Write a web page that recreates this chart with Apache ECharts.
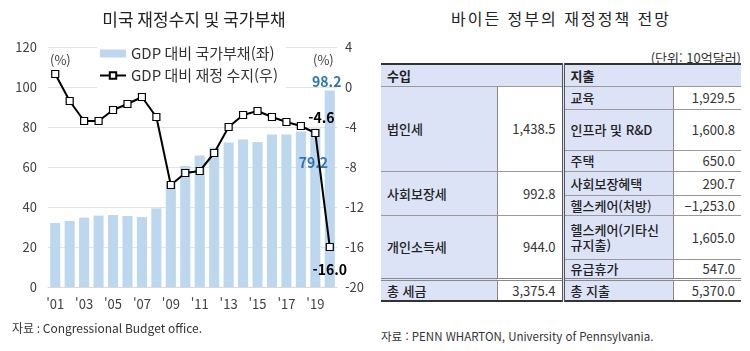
<!DOCTYPE html>
<html lang="ko">
<head>
<meta charset="UTF-8">
<title>미국 재정수지 및 국가부채 / 바이든 정부의 재정정책 전망</title>
<script src="https://cdn.jsdelivr.net/npm/echarts@6.0.0/dist/echarts.min.js"></script>
<style>
    body { margin: 0; background: #fff; font-family: "Noto Sans CJK KR", sans-serif; }
    #chart { position: absolute; left: 0; top: 0; width: 375px; height: 351px; }
    .ttl { position: absolute; left: 381px; width: 360px; top: 6px; text-align: center; font-size: 16px; letter-spacing: 2px; color: #222; }
    .unit { position: absolute; right: 9px; top: 48px; font-size: 13px; color: #333; }
    .src { position: absolute; left: 381px; top: 328px; font-size: 11.5px; color: #333; }
    #tbl { position: absolute; left: 381px; top: 63px; width: 360px; border-collapse: collapse; table-layout: fixed;
           border-top: 2px solid #333; border-bottom: 2px solid #333; font-size: 13px; color: #222; }
    #tbl td { padding: 0 6px; border-top: 1px solid #999; border-bottom: 1px solid #999; line-height: 15px; }
    #tbl td.k { background: #dce3f6; font-weight: 500; text-align: left; }
    #tbl td.v { background: #fff; text-align: right; color: #333; }
    #tbl td.c2 { border-left: 1px solid #888; }
    #tbl td.c3 { border-left: 3px double #555; }
    #tbl td.c4 { border-left: 1px solid #888; }
    #tbl tr.hd td { background: #dce3f6; font-weight: 600; }
    #tbl tr.tot td { border-top: 3px double #888; }
</style>
</head>
<body>
<div id="chart"></div>
<div class="ttl">바이든 정부의 재정정책 전망</div>
<div class="unit">(단위: 10억달러)</div>
<table id="tbl"></table>
<div class="src">자료 : PENN WHARTON, University of Pennsylvania.</div>

<script>
    // 좌측 차트 데이터
    const years = ["'01", "'02", "'03", "'04", "'05", "'06", "'07", "'08", "'09", "'10",
                   "'11", "'12", "'13", "'14", "'15", "'16", "'17", "'18", "'19", "'20"];
    const debt = [32, 33, 34.7, 35.7, 36, 35.5, 35, 39.3, 52, 60.5,
                  65.8, 69.8, 72.2, 73.8, 72.5, 76.3, 76.3, 77.7, 79.2, 98.2];
    const balance = [1.3, -1.4, -3.4, -3.4, -2.3, -1.7, -1.0, -3.0, -9.8, -8.6,
                     -8.4, -6.6, -4.0, -2.8, -2.4, -3.0, -3.5, -3.9, -4.6, -16.0];

    // 우측 표 데이터
    const revNames = ['법인세', '사회보장세', '개인소득세'];
    const revValues = [1438.5, 992.8, 944.0];
    const revSpans = [3, 2, 2];
    const spendNames = ['교육', '인프라 및 R&D', '주택', '사회보장혜택', '헬스케어(처방)', '헬스케어(기타신\n규지출)', '유급휴가'];
    const spendValues = [1929.5, 1600.8, 650.0, 290.7, -1253.0, 1605.0, 547.0];
    const totalRev = 3375.4;
    const totalSpend = 5370.0;
    const rowHeights = [23, 41, 21, 24, 20, 44, 20];

    const fmt = v => (v < 0 ? '−' : '') + Math.abs(v).toLocaleString('en-US', { minimumFractionDigits: 1, maximumFractionDigits: 1 });

    // 표 만들기
    let html = '<colgroup><col style="width:116px"><col style="width:66px"><col style="width:110px"><col style="width:68px"></colgroup>';
    html += '<tr class="hd" style="height:22px"><td colspan="2" class="k">수입</td><td colspan="2" class="k c3">지출</td></tr>';
    let ri = 0, left = 0;
    spendNames.forEach((name, i) => {
        html += '<tr style="height:' + rowHeights[i] + 'px">';
        if (left === 0) {
            html += '<td class="k" rowspan="' + revSpans[ri] + '">' + revNames[ri] + '</td>';
            html += '<td class="v c2" rowspan="' + revSpans[ri] + '">' + fmt(revValues[ri]) + '</td>';
            left = revSpans[ri];
            ri++;
        }
        left--;
        html += '<td class="k c3">' + name.replace('&', '&amp;').replace('\n', '<br>') + '</td>';
        html += '<td class="v c4">' + fmt(spendValues[i]) + '</td></tr>';
    });
    html += '<tr class="tot" style="height:22px"><td class="k">총 세금</td><td class="v c2">' + fmt(totalRev) +
            '</td><td class="k c3">총 지출</td><td class="v c4">' + fmt(totalSpend) + '</td></tr>';
    document.getElementById('tbl').innerHTML = html;

    // 차트
    const font = 'Noto Sans CJK KR';
    let chart = echarts.init(document.getElementById('chart'));
    chart.setOption({
        animation: false,
        textStyle: { fontFamily: font },
        title: {
            text: '미국 재정수지 및 국가부채',
            left: 189, top: 6, textAlign: 'center',
            textStyle: { fontSize: 17, fontWeight: 'normal', color: '#222', fontFamily: font }
        },
        grid: { left: 48, right: 38, top: 47, bottom: 64 },
        legend: {
            orient: 'vertical',
            left: 97, top: 43,
            itemWidth: 26, itemHeight: 8, itemGap: 7,
            backgroundColor: '#fff',
            padding: [3, 8, 5, 2],
            textStyle: { fontSize: 15, color: '#333', fontFamily: font },
            data: [{ name: 'GDP 대비 국가부채(좌)', icon: 'rect' }, { name: 'GDP 대비 재정 수지(우)' }]
        },
        xAxis: {
            type: 'category',
            data: years,
            axisLine: { lineStyle: { color: '#d9d9d9' } },
            axisTick: { show: false },
            axisLabel: { interval: 1, color: '#404040', fontSize: 13, margin: 11 }
        },
        yAxis: [{
            type: 'value', min: 0, max: 120, interval: 20,
            axisLabel: { color: '#404040', fontSize: 13, margin: 11 },
            splitLine: { lineStyle: { color: '#e3e3e3' } }
        }, {
            type: 'value', min: -20, max: 4, interval: 4,
            axisLabel: { color: '#404040', fontSize: 13, margin: 8 },
            splitLine: { show: false }
        }],
        graphic: [
            { type: 'text', left: 50, top: 54, style: { text: '(%)', fontSize: 13, fill: '#404040', fontFamily: font } },
            { type: 'text', left: 313, top: 54, style: { text: '(%)', fontSize: 13, fill: '#404040', fontFamily: font } },
            { type: 'text', left: 12, top: 322, style: { text: '자료 : Congressional Budget office.', fontSize: 12, fill: '#333', fontFamily: font } }
        ],
        series: [{
            name: 'GDP 대비 국가부채(좌)',
            type: 'bar',
            data: debt.map((v, i) => {
                if (i === years.length - 1) {
                    return { value: v, label: { show: true, position: 'top', distance: 2, offset: [-3, 0] } };
                }
                if (i === years.length - 2) {
                    return { value: v, label: { show: true, position: 'insideTop', distance: 27, offset: [-2, 0] } };
                }
                return v;
            }),
            barCategoryGap: '30%',
            itemStyle: { color: '#bdd7ee' },
            label: { color: '#2e75b6', fontSize: 14, fontWeight: 'bold', fontFamily: font },
            z: 1
        }, {
            name: 'GDP 대비 재정 수지(우)',
            type: 'line',
            yAxisIndex: 1,
            data: balance.map((v, i) => {
                if (i === years.length - 1) {
                    return { value: v, label: { show: true, position: 'bottom', distance: 12 } };
                }
                if (i === years.length - 2) {
                    return { value: v, label: { show: true, position: 'top', distance: 4, offset: [6, 0] } };
                }
                return v;
            }),
            symbol: 'rect',
            symbolSize: 7,
            lineStyle: { color: '#000', width: 2 },
            itemStyle: { color: '#fff', borderColor: '#000', borderWidth: 1.2 },
            label: {
                color: '#000', fontSize: 14, fontWeight: 'bold', fontFamily: font,
                formatter: p => p.value.toFixed(1)
            },
            z: 3
        }]
    });
</script>
</body>
</html>
